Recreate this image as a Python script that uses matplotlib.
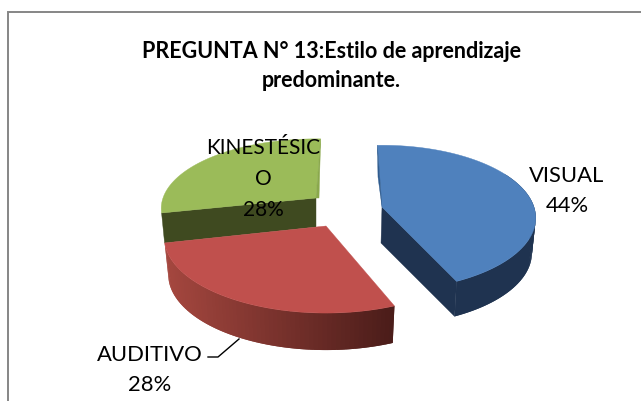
import numpy as np
import matplotlib
matplotlib.use("Agg")
import matplotlib.pyplot as plt
from matplotlib.patches import Polygon
from matplotlib.colors import to_rgb

title = "PREGUNTA N° 13:Estilo de aprendizaje\npredominante."
categories = ["VISUAL", "AUDITIVO", "KINESTÉSICO"]
shares = [44, 28, 28]

W, H = 641, 401
fig = plt.figure(figsize=(W/100, H/100), dpi=100, facecolor="white")
ax = fig.add_axes([0, 0, 1, 1])
ax.set_xlim(0, W); ax.set_ylim(H, 0); ax.axis("off")

ax.plot([8, 8, W], [H, 12, 12], color="#868686", lw=1.4, solid_joinstyle="miter")

START = -5.0
A, B, K = 152.0, 71.0, 0.15
spans = 360*np.array(shares)/sum(shares)
starts = START + np.concatenate([[0], np.cumsum(spans)[:-1]])

def proj(theta, c, depth=0.0, shrink=1.0, a=A, b=B):
    t = np.radians(np.asarray(theta, float))
    u, v = np.sin(t), -np.cos(t)
    f = 1/(1-K*v)
    return c[0]+a*u*f*shrink, c[1]+b*v*f+depth

def poly(x, y, col, z):
    ax.add_patch(Polygon(np.c_[x, y], closed=True, fc=col, ec=col, lw=0.3, zorder=z))

def top_face(s, e, c, col, z, a=A, b=B):
    x, y = proj(np.linspace(s, e, 160), c, a=a, b=b)
    poly(np.r_[c[0], x], np.r_[c[1], y], col, z)

def outer_side(s, e, c, depth, shrink, c0, c1, z, a=A, b=B):
    n = 70
    ths = np.linspace(s, e, n+1)
    c0, c1 = np.array(to_rgb(c0)), np.array(to_rgb(c1))
    xs = proj(ths, c, a=a, b=b)[0]
    lo, hi = xs.min(), xs.max()
    for i in range(n):
        tt = np.linspace(ths[i], ths[min(i+2, n)], 4)
        x0, y0 = proj(tt, c, a=a, b=b)
        x1, y1 = proj(tt, c, depth=depth, shrink=shrink, a=a, b=b)
        w = (x0[:2].mean()-lo)/(hi-lo)
        col = c0+(c1-c0)*w
        ax.add_patch(Polygon(np.c_[np.r_[x0, x1[::-1]], np.r_[y0, y1[::-1]]], closed=True,
                             fc=col, ec="none", zorder=z))

SHR = 0.975

# KINESTESICO (behind): perspective shifts apparent angles of this slice
cg = (316, 198)
a_g, b_g = 153, 68
s, e = starts[2]+3.5, starts[2]+spans[2]+7
lx, ly = proj([s], cg, a=a_g, b=b_g)
tx, ty = proj([e], cg, a=a_g, b=b_g)
poly([cg[0], lx[0], lx[0]+3, cg[0]], [cg[1], ly[0], ly[0]+30, cg[1]+29], "#3f4a20", 1)
top_face(s, e, cg, "#9bbb59", 2, a=a_g, b=b_g)
poly([cg[0], tx[0], cg[0]+3], [cg[1], ty[0], cg[1]], "#8aa84c", 3)

# VISUAL
cb = (382, 207)
s, e = starts[0]+3, starts[0]+spans[0]+1.5
ex, ey = proj([e], cb)
poly([cb[0], ex[0], ex[0]-2, cb[0]-1], [cb[1], ey[0], ey[0]+35, cb[1]+36], "#1f3350", 3)
outer_side(60, e, cb, 35, SHR, "#1f3350", "#1f3350", 3)
top_face(s, e, cb, "#4f81bd", 4)
sx, sy = proj([s], cb)
poly([cb[0], sx[0], cb[0]-4], [cb[1], sy[0], cb[1]-30], "#2f5c8f", 5)

# AUDITIVO
cr = (326, 226)
a_r, b_r = 160, 74
s, e = starts[1]+5, starts[1]+spans[1]+3
outer_side(e, s, cr, 37, SHR, "#a5473f", "#4a1c19", 6, a=a_r, b=b_r)
top_face(s, e, cr, "#c0504d", 7, a=a_r, b=b_r)

# Labels
FAM = ["Lato", "DejaVu Sans"]
def lbl(x, y, t, fs, ls):
    ax.text(x, y, t, ha="center", va="center", fontsize=fs, color="black",
            linespacing=ls, zorder=10, family=FAM)

lbl(567, 191, f"{categories[0]}\n{shares[0]}%", 15.8, 1.6)
lbl(150, 370, f"{categories[1]}\n{shares[1]}%", 15.8, 1.6)
k = categories[2]
lbl(263, 179, f"{k[:-1]}\n{k[-1]}\n{shares[2]}%", 15, 1.7)
ax.plot([208, 218, 239], [357, 357, 339], color="black", lw=1, zorder=9)
ax.text(331, 66, title, ha="center", va="center", fontsize=15.5, fontweight="bold",
        linespacing=1.42, color="black", family=FAM)

fig.savefig("out.png", dpi=100)
